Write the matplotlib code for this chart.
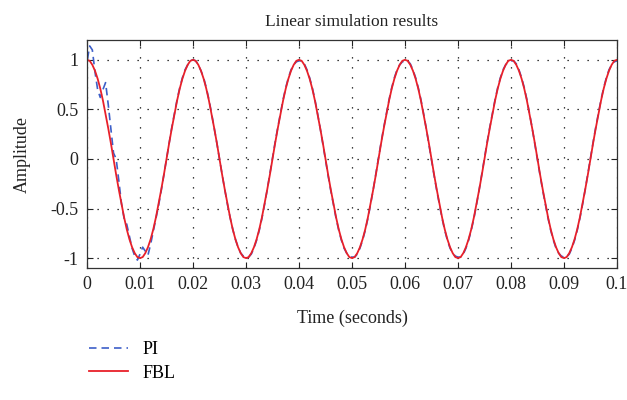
import numpy as np
import matplotlib
matplotlib.use("Agg")
import matplotlib.pyplot as plt

# ----------------------------------------------------------
# data (0.5 ms sampling, 0 .. 0.1 s)
# ----------------------------------------------------------
t_grid = np.round(np.arange(0, 0.10001, 0.0005), 4)

# FBL response: starts at 0, jumps to 1, then a clean 50 Hz wave
fbl_start = 0.0
fbl_values = [
    1.00, 0.99, 0.95, 0.89, 0.81, 0.71, 0.59, 0.45, 0.31, 0.16, 0.00, -0.16, -0.31, -0.45, -0.59, -0.71, -0.81, -0.89, -0.95, -0.99,
    -1.00, -0.99, -0.95, -0.89, -0.81, -0.71, -0.59, -0.45, -0.31, -0.16, 0.00, 0.16, 0.31, 0.45, 0.59, 0.71, 0.81, 0.89, 0.95, 0.99,
    1.00, 0.99, 0.95, 0.89, 0.81, 0.71, 0.59, 0.45, 0.31, 0.16, 0.00, -0.16, -0.31, -0.45, -0.59, -0.71, -0.81, -0.89, -0.95, -0.99,
    -1.00, -0.99, -0.95, -0.89, -0.81, -0.71, -0.59, -0.45, -0.31, -0.16, 0.00, 0.16, 0.31, 0.45, 0.59, 0.71, 0.81, 0.89, 0.95, 0.99,
    1.00, 0.99, 0.95, 0.89, 0.81, 0.71, 0.59, 0.45, 0.31, 0.16, 0.00, -0.16, -0.31, -0.45, -0.59, -0.71, -0.81, -0.89, -0.95, -0.99,
    -1.00, -0.99, -0.95, -0.89, -0.81, -0.71, -0.59, -0.45, -0.31, -0.16, 0.00, 0.16, 0.31, 0.45, 0.59, 0.71, 0.81, 0.89, 0.95, 0.99,
    1.00, 0.99, 0.95, 0.89, 0.81, 0.71, 0.59, 0.45, 0.31, 0.16, 0.00, -0.16, -0.31, -0.45, -0.59, -0.71, -0.81, -0.89, -0.95, -0.99,
    -1.00, -0.99, -0.95, -0.89, -0.81, -0.71, -0.59, -0.45, -0.31, -0.16, 0.00, 0.16, 0.31, 0.45, 0.59, 0.71, 0.81, 0.89, 0.95, 0.99,
    1.00, 0.99, 0.95, 0.89, 0.81, 0.71, 0.59, 0.45, 0.31, 0.16, 0.00, -0.16, -0.31, -0.45, -0.59, -0.71, -0.81, -0.89, -0.95, -0.99,
    -1.00, -0.99, -0.95, -0.89, -0.81, -0.71, -0.59, -0.45, -0.31, -0.16, 0.00, 0.16, 0.31, 0.45, 0.59, 0.71, 0.81, 0.89, 0.95, 0.99,
    1.00,
]

# PI response: overshoot and ripple during the first cycle, then follows
pi_start = 0.0
pi_values = [
    0.98, 1.14, 1.10, 0.88, 0.70, 0.62, 0.70, 0.77, 0.55, 0.30, 0.06, 0.00, -0.22, -0.45, -0.60, -0.66, -0.78, -0.90, -0.98, -1.02,
    -0.96, -0.89, -0.93, -0.97, -0.86, -0.73, -0.60, -0.47, -0.32, -0.16, 0.00, 0.16, 0.32, 0.46, 0.60, 0.72, 0.82, 0.90, 0.95, 0.99,
    1.00, 0.99, 0.95, 0.89, 0.82, 0.72, 0.60, 0.46, 0.31, 0.16, 0.00, -0.16, -0.31, -0.46, -0.59, -0.71, -0.81, -0.89, -0.95, -0.98,
    -0.99, -0.99, -0.96, -0.90, -0.82, -0.72, -0.60, -0.46, -0.31, -0.15, 0.01, 0.17, 0.32, 0.46, 0.60, 0.72, 0.82, 0.90, 0.95, 0.98,
    0.99, 0.99, 0.96, 0.90, 0.82, 0.72, 0.60, 0.46, 0.31, 0.15, -0.01, -0.17, -0.32, -0.46, -0.60, -0.72, -0.82, -0.90, -0.95, -0.98,
    -0.99, -0.99, -0.96, -0.90, -0.82, -0.72, -0.60, -0.46, -0.31, -0.15, 0.01, 0.17, 0.32, 0.46, 0.60, 0.72, 0.82, 0.90, 0.95, 0.98,
    0.99, 0.99, 0.96, 0.90, 0.82, 0.72, 0.60, 0.46, 0.31, 0.15, -0.01, -0.17, -0.32, -0.46, -0.60, -0.72, -0.82, -0.90, -0.95, -0.98,
    -0.99, -0.99, -0.96, -0.90, -0.82, -0.72, -0.60, -0.46, -0.31, -0.15, 0.01, 0.17, 0.32, 0.46, 0.60, 0.72, 0.82, 0.90, 0.95, 0.98,
    0.99, 0.99, 0.96, 0.90, 0.82, 0.72, 0.60, 0.46, 0.31, 0.15, -0.01, -0.17, -0.32, -0.46, -0.60, -0.72, -0.82, -0.90, -0.95, -0.98,
    -0.99, -0.99, -0.96, -0.90, -0.82, -0.72, -0.60, -0.46, -0.31, -0.15, 0.01, 0.17, 0.32, 0.46, 0.60, 0.72, 0.82, 0.90, 0.95, 0.98,
    0.99,
]

x_ticks = [0, 0.01, 0.02, 0.03, 0.04, 0.05, 0.06, 0.07, 0.08, 0.09, 0.1]
x_labels = ["0", "0.01", "0.02", "0.03", "0.04", "0.05", "0.06", "0.07", "0.08", "0.09", "0.1"]
y_ticks = [-1, -0.5, 0, 0.5, 1]
y_labels = ["-1", "-0.5", "0", "0.5", "1"]

# ----------------------------------------------------------
# figure
# ----------------------------------------------------------
plt.rcParams['font.family'] = ['Liberation Serif', 'DejaVu Serif']

fig = plt.figure(figsize=(6.27, 4.0), dpi=100)
ax = fig.add_axes([0.1388, 0.33, 0.8452, 0.57])

t_line = np.concatenate([[0.0], t_grid])
pi_line, = ax.plot(t_line, [pi_start] + pi_values, color='#3d5fc8', lw=1.2,
                   dashes=(4.5, 3), label='PI')
fbl_line, = ax.plot(t_line, [fbl_start] + fbl_values, color='#e8202a', lw=1.3,
                    label='FBL')

ax.set_xlim(0, 0.1)
ax.set_ylim(-1.1, 1.2)
ax.set_xticks(x_ticks)
ax.set_xticklabels(x_labels)
ax.set_yticks(y_ticks)
ax.set_yticklabels(y_labels)
ax.tick_params(direction='in', top=True, right=True, length=4, width=0.8,
               labelsize=13, pad=6, colors='#222222')
ax.grid(True, color='black', linestyle=(0, (1, 7)), linewidth=0.9)
for s in ax.spines.values():
    s.set_color('#333333')
    s.set_linewidth(0.9)

ax.set_title("Linear simulation results", fontsize=12.5, color='#222222', pad=10)
ax.set_xlabel("Time (seconds)", fontsize=13, color='#222222', labelpad=12)
ax.set_ylabel("Amplitude", fontsize=13, color='#222222', labelpad=14)

fig.legend(handles=[pi_line, fbl_line], loc='upper left',
           bbox_to_anchor=(0.13, 0.165), frameon=False, fontsize=13,
           handlelength=2.2, handletextpad=0.8, labelspacing=0.35,
           borderaxespad=0)

fig.savefig("out.png", dpi=100)
